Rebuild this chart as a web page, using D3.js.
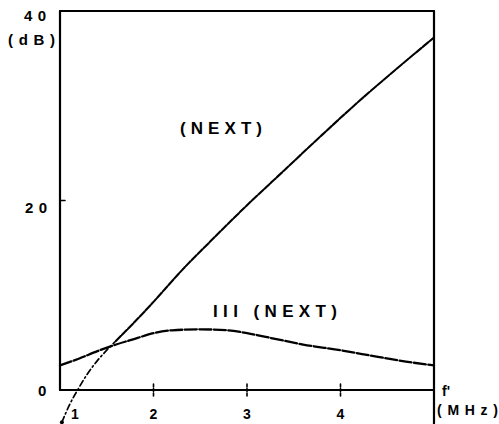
<!DOCTYPE html>
<html>
<head>
<meta charset="utf-8">
<script src="https://cdn.jsdelivr.net/npm/d3@7"></script>
<style>
  body { margin: 0; background: #fff; }
  .lbl { font-family: "Liberation Sans", Arial, sans-serif; font-weight: bold; fill: #000; }
</style>
</head>
<body>
<svg id="chart" width="499" height="424"></svg>
<script>
// frequency (MHz) / attenuation (dB)
const nextF  = [1.02, 1.1, 1.2, 1.3, 1.4, 1.5, 1.6, 1.8, 2.0, 2.3, 2.6, 3.0, 3.4, 3.8, 4.2, 4.6, 5.0]
const nextDb = [-3.4, -1.6, 0.2, 1.8, 3.1, 4.2, 5.2, 7.2, 9.3, 12.6, 15.6, 19.5, 23.2, 26.9, 30.5, 33.9, 37.2]
const iiiF  = [1.0, 1.2, 1.4, 1.6, 1.8, 2.0, 2.2, 2.5, 2.8, 3.0, 3.3, 3.6, 4.0, 4.4, 4.7, 5.0]
const iiiDb = [2.6, 3.3, 4.1, 4.8, 5.4, 6.0, 6.3, 6.4, 6.3, 6.0, 5.4, 4.8, 4.2, 3.5, 3.0, 2.6]
const xTicks = [2, 3, 4]
const yTicks = [20]

const svg = d3.select("#chart")
const x = d3.scaleLinear().domain([1, 5]).range([60, 434])
const y = d3.scaleLinear().domain([0, 40]).range([390, 11])

const createLine = (e, d, dash, w) => {
  e.append("path")
    .attr("d", d)
    .attr("fill", "none")
    .attr("stroke", "#000")
    .attr("stroke-width", w)
    .attr("stroke-dasharray", dash)
    .attr("stroke-linecap", "round")
}

const createText = (e, text, px, py, size, len) => {
  const t = e.append("text").attr("class", "lbl")
    .attr("x", px).attr("y", py)
    .attr("font-size", size)
    .text(text)
  if (len) t.attr("textLength", len).attr("lengthAdjust", "spacing")
  return t
}

// frame: left axis, top, right (runs below the f axis)
createLine(svg, d3.line()([[x(1), y(40)], [x(5), y(40)]]), null, 2)
createLine(svg, d3.line()([[x(1), y(40)], [x(1), y(0)]]), null, 2.2)
createLine(svg, d3.line()([[x(5), y(40)], [x(5), 424]]), null, 2.2)

// f axis at 0 dB
createLine(svg, d3.line()([[x(1), y(0)], [x(5), y(0)]]), null, 2.2)
xTicks.forEach(t => {
  createLine(svg, d3.line()([[x(t), y(0) - 6], [x(t), y(0) + 6]]), "3,1.5", 1.6)
  createText(svg, t, x(t), 419, 14).attr("text-anchor", "middle")
})
createText(svg, "1", x(1) + 15, 419, 14).attr("text-anchor", "middle")
yTicks.forEach(t => {
  createLine(svg, d3.line()([[x(1), y(t)], [x(1) + 5, y(t)]]), null, 1.6)
  createText(svg, t, 25, y(t) + 12, 15, 22)
})
createText(svg, "40", 24, 21, 15, 22)
createText(svg, "(dB)", 8, 45, 15, 47)
createText(svg, "0", 38, 396, 15)
createText(svg, "f'", 442, 396, 14)
createText(svg, "(MHz)", 437, 415, 14, 61)

// curves
const line = d3.line().x(d => x(d[0])).y(d => y(d[1])).curve(d3.curveMonotoneX)
const nextPts = nextF.map((f, i) => [f, nextDb[i]])
const iiiPts = iiiF.map((f, i) => [f, iiiDb[i]])

createLine(svg, line(nextPts.filter(d => d[0] <= 1.6)), "6,3,1.5,3", 1.7)
createLine(svg, line(nextPts.filter(d => d[0] >= 1.6)), "7,1.5", 2.1)
svg.append("circle").attr("cx", x(nextF[0])).attr("cy", y(nextDb[0])).attr("r", 2).attr("fill", "#000")
createLine(svg, line(iiiPts), "12,2.5", 2.3)

createText(svg, "(NEXT)", 180, 134, 17, 82)
createText(svg, "III (NEXT)", 213, 317, 17, 124)
</script>
</body>
</html>
